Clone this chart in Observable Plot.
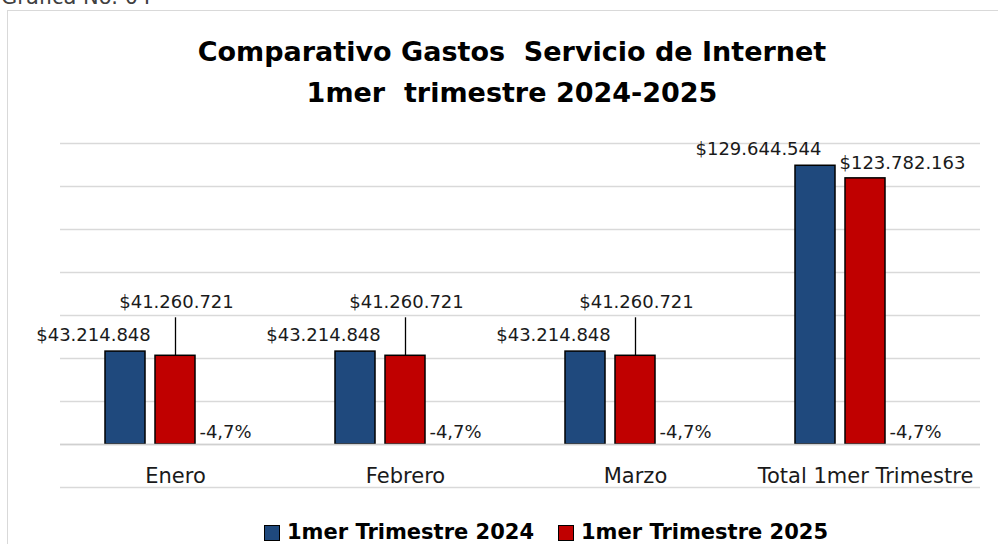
<!DOCTYPE html>
<html>
<head>
<meta charset="utf-8">
<script src="https://cdn.jsdelivr.net/npm/d3@7"></script>
<script src="https://cdn.jsdelivr.net/npm/@observablehq/plot@0.6"></script>
<style>
  html, body { margin: 0; padding: 0; background: #fff; }
  body { width: 998px; height: 544px; overflow: hidden; position: relative; font-family: "DejaVu Sans", sans-serif; }
  #caption { position: absolute; left: 1px; top: -13px; font-size: 21px; line-height: 21px; color: #404040; white-space: pre; }
  #box { position: absolute; left: 7px; top: 10px; width: 1100px; height: 700px; border: 1px solid #d9d9d9; box-sizing: border-box; }
  #title { position: absolute; left: 12px; width: 1000px; top: 31px; text-align: center; font-weight: bold; font-size: 27px; line-height: 41px; color: #000; white-space: pre; }
  #chart { position: absolute; left: 0; top: 120px; }
  #legend { position: absolute; left: 264px; top: 522px; display: flex; align-items: center; font-weight: bold; font-size: 21px; line-height: 21px; color: #000; white-space: pre; }
  .sw { width: 14px; height: 14px; border: 1.5px solid #000; margin-right: 7px; }
  .item { display: flex; align-items: center; margin-right: 24px; }
</style>
</head>
<body>
<div id="caption">Gráfica No. 04</div>
<div id="box"></div>
<div id="title"></div>
<div id="chart"></div>
<div id="legend"></div>
<script>
// ---- data ----
const categories = ["Enero", "Febrero", "Marzo", "Total 1mer Trimestre"];
const series = ["1mer Trimestre 2024", "1mer Trimestre 2025"];
const values2024 = [43214848, 43214848, 43214848, 129644544];
const values2025 = [41260721, 41260721, 41260721, 123782163];
const variation = [-0.047, -0.047, -0.047, -0.047];
const gridTicks = [-20000000, 0, 20000000, 40000000, 60000000, 80000000, 100000000, 120000000, 140000000];
const titleLines = ["Comparativo Gastos  Servicio de Internet", "1mer  trimestre 2024-2025"];
const colors = ["#1f497d", "#c00000"];
const varKey = "Variación";

// ---- formatting ----
const loc = d3.formatLocale({decimal: ",", thousands: ".", grouping: [3], currency: ["$", ""], minus: "-", percent: "%"});
const money = loc.format("$,.0f");
const pct = loc.format(".1%");

// ---- tables ----
const rows = categories.flatMap((c, i) => [
  {cat: c, serie: series[0], value: values2024[i]},
  {cat: c, serie: series[1], value: values2025[i]}
]);
const varRows = categories.map((c, i) => ({cat: c, serie: varKey, value: variation[i]}));
const total = categories[categories.length - 1];
const is = (s, tot) => d => d.serie === s && ((d.cat === total) === tot);

document.getElementById("title").textContent = titleLines.join("\n");

const chart = Plot.plot({
  width: 998,
  height: 380,
  marginTop: 23,
  marginBottom: 13,
  marginLeft: 60,
  marginRight: 18,
  style: {fontFamily: "DejaVu Sans", background: "transparent", color: "#1a1a1a"},
  fx: {domain: categories, padding: 0, axis: null, label: null},
  x: {domain: [...series, varKey], paddingInner: 0.196, paddingOuter: 0.853, axis: null},
  y: {domain: [-20000000, 140000000], axis: null},
  color: {domain: series, range: colors},
  marks: [
    Plot.ruleY(gridTicks, {stroke: "#d9d9d9", strokeOpacity: 1, strokeWidth: 1.3}),
    Plot.barY(rows, {fx: "cat", x: "serie", y: "value", fill: "serie", stroke: "#000", strokeWidth: 1.5}),
    Plot.ruleY([0], {stroke: "#d0d0d0", strokeOpacity: 1, strokeWidth: 1.3}),
    // leader lines for 2025 monthly labels
    Plot.ruleX(rows.filter(is(series[1], false)), {fx: "cat", x: "serie", y1: "value", y2: "value", insetBottom: 38, stroke: "#000", strokeWidth: 1.3}),
    // 2024 labels
    Plot.text(rows.filter(is(series[0], false)), {fx: "cat", x: "serie", y: "value", text: d => money(d.value), dx: -32, dy: -16, fontSize: 18, fill: "#1a1a1a"}),
    Plot.text(rows.filter(is(series[0], true)), {fx: "cat", x: "serie", y: "value", text: d => money(d.value), dx: -57, dy: -17, fontSize: 18, fill: "#1a1a1a"}),
    // 2025 labels
    Plot.text(rows.filter(is(series[1], false)), {fx: "cat", x: "serie", y: "value", text: d => money(d.value), dx: 1, dy: -54, fontSize: 18, fill: "#1a1a1a"}),
    Plot.text(rows.filter(is(series[1], true)), {fx: "cat", x: "serie", y: "value", text: d => money(d.value), dx: 37, dy: -15, fontSize: 18, fill: "#1a1a1a"}),
    // variation labels
    Plot.text(varRows, {fx: "cat", x: "serie", y: "value", text: d => pct(d.value), dy: -12, fontSize: 18, fill: "#1a1a1a"}),
    // category labels
    Plot.text(categories, {fx: d => d, text: d => d, frameAnchor: "bottom", lineAnchor: "middle", dy: -11, fontSize: 21, fill: "#1a1a1a"})
  ]
});
document.getElementById("chart").appendChild(chart);

const legend = document.getElementById("legend");
series.forEach((s, i) => {
  const it = document.createElement("div");
  it.className = "item";
  const sw = document.createElement("div");
  sw.className = "sw";
  sw.style.background = colors[i];
  const t = document.createElement("span");
  t.textContent = s;
  it.appendChild(sw);
  it.appendChild(t);
  legend.appendChild(it);
});
</script>
</body>
</html>
